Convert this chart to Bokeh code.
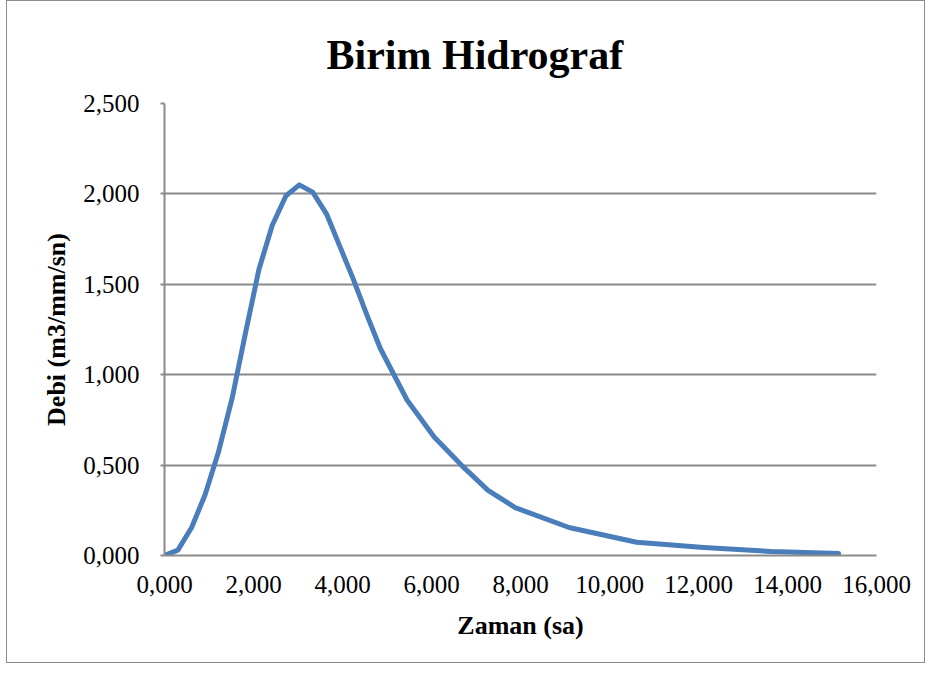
from bokeh.plotting import figure
from bokeh.models import Range1d, FixedTicker
from bokeh.embed import file_html
from bokeh.resources import INLINE

# Data
zaman = [0.00, 0.30, 0.61, 0.91, 1.21, 1.52, 1.82, 2.12, 2.42, 2.73, 3.03,
         3.33, 3.64, 3.94, 4.24, 4.55, 4.85, 5.45, 6.06, 6.67, 7.27, 7.88,
         9.09, 10.61, 12.12, 13.64, 15.15]
debi = [0.000, 0.030, 0.155, 0.335, 0.570, 0.870, 1.230, 1.580, 1.825, 1.990, 2.050,
        2.010, 1.890, 1.710, 1.530, 1.330, 1.145, 0.860, 0.655, 0.500, 0.360, 0.265,
        0.155, 0.073, 0.044, 0.022, 0.011]

x_ticks = [0, 2, 4, 6, 8, 10, 12, 14, 16]
x_tick_labels = ["0,000", "2,000", "4,000", "6,000", "8,000", "10,000", "12,000", "14,000", "16,000"]
y_ticks = [0, 0.5, 1.0, 1.5, 2.0, 2.5]
y_tick_labels = ["0,000", "0,500", "1,000", "1,500", "2,000", "2,500"]

title_text = "Birim Hidrograf"
x_title = "Zaman (sa)"
y_title = "Debi (m3/mm/sn)"

FONT = "Liberation Serif"
GRID = "#8a8a8a"

p = figure(width=919, height=663,
           x_range=Range1d(0, 16), y_range=Range1d(0, 2.5),
           output_backend="svg", toolbar_location=None,
           min_border_left=157, min_border_right=50,
           min_border_top=102, min_border_bottom=109,
           title=title_text)
p.styles = {"border": "1.5px solid #8c8c8c", "margin-left": "6px"}
p.outline_line_color = None
p.background_fill_color = "white"
p.border_fill_color = "white"

p.title.text_font = FONT
p.title.text_font_size = "42px"
p.title.text_font_style = "bold"
p.title.text_color = "black"
p.title.align = "left"
p.title.offset = 162
p.title.vertical_align = "bottom"
p.title.standoff = 52

# x axis
p.xaxis.ticker = FixedTicker(ticks=x_ticks)
p.xaxis.major_label_overrides = {t: l for t, l in zip(x_ticks, x_tick_labels)}
p.xaxis.axis_label = x_title
p.xaxis.axis_line_color = GRID
p.xaxis.axis_line_width = 2
p.xaxis.major_tick_in = 0
p.xaxis.major_tick_out = 0
p.xaxis.minor_tick_line_color = None
p.xaxis.major_label_standoff = 20
p.xaxis.axis_label_standoff = 15

# y axis
p.yaxis.ticker = FixedTicker(ticks=y_ticks)
p.yaxis.major_label_overrides = {t: l for t, l in zip(y_ticks, y_tick_labels)}
p.yaxis.axis_label = y_title
p.yaxis.axis_line_color = GRID
p.yaxis.axis_line_width = 2
p.yaxis.major_tick_in = 0
p.yaxis.major_tick_out = 4
p.yaxis.major_tick_line_color = GRID
p.yaxis.major_tick_line_width = 2
p.yaxis.minor_tick_line_color = None
p.yaxis.major_label_standoff = 21
p.yaxis.axis_label_standoff = 9

for ax in (p.xaxis, p.yaxis):
    ax.major_label_text_font = FONT
    ax.major_label_text_font_size = "25px"
    ax.major_label_text_color = "black"
    ax.axis_label_text_font = FONT
    ax.axis_label_text_font_size = "26px"
    ax.axis_label_text_font_style = "bold"
    ax.axis_label_text_color = "black"

p.xgrid.grid_line_color = None
p.ygrid.grid_line_color = GRID
p.ygrid.grid_line_width = 2

p.line(zaman, debi, line_color="#4a7ebb", line_width=5, line_join="round", line_cap="round")

open("out.html", "w").write(file_html(p, INLINE))
